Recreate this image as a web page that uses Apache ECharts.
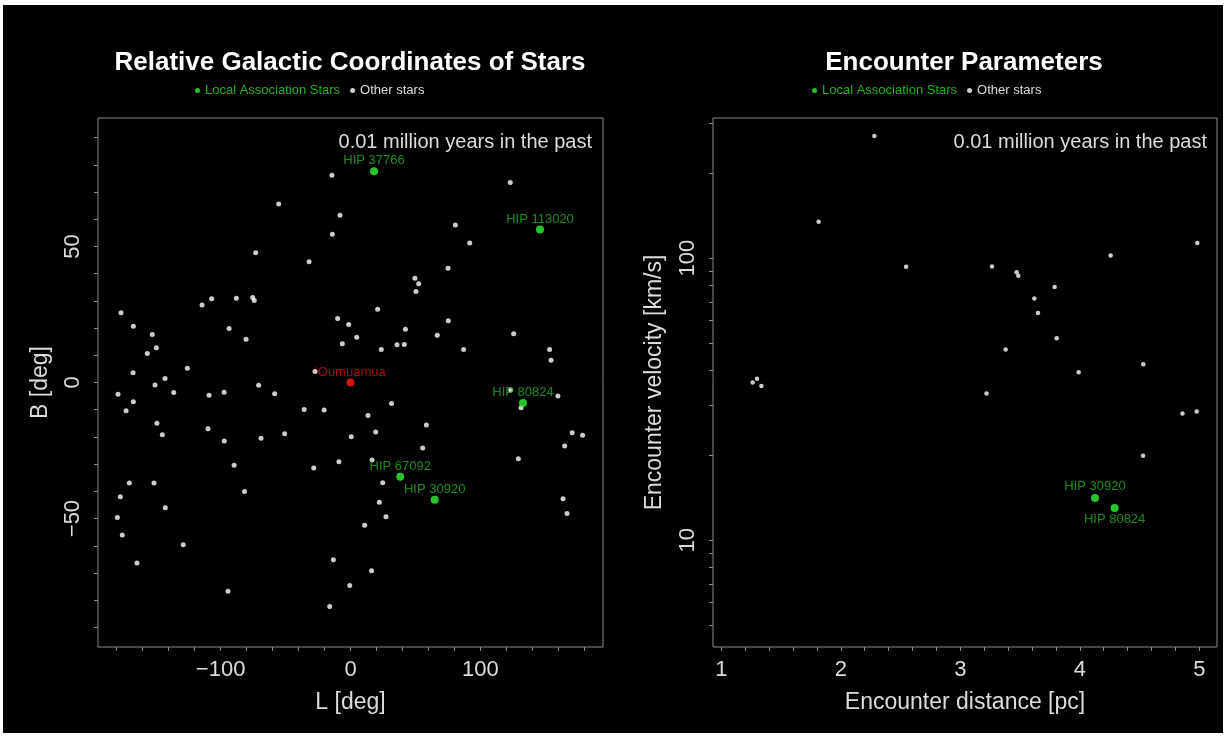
<!DOCTYPE html>
<html><head><meta charset="utf-8">
<script src="https://cdn.jsdelivr.net/npm/echarts@6/dist/echarts.min.js"></script>
<style>
html,body{margin:0;padding:0;background:#fff;}
#bg{position:absolute;left:3px;top:5px;width:1220px;height:728px;background:#000;}
#chart{position:absolute;left:0;top:0;width:1229px;height:740px;}
</style></head><body>
<div id="bg"></div><div id="chart"></div>
<script>
// ---------- Left panel: relative galactic coordinates ----------
const otherL = [-14.3,-55.3,-8.1,-14.0,-73.0,-31.9,-114.3,-106.9,-87.9,-75.3,-74.1,-176.7,-167.2,-152.6,-149.5,-156.4,-93.5,-80.4,-9.9,-1.4,-6.3,4.8,-167.4,-125.6,-142.8,-27.3,123.0,80.7,91.8,75.1,49.6,52.5,50.4,20.9,75.3,42.3,66.8,35.8,41.4,23.7,87.1,125.6,153.3,154.4,-150.5,-179.0,-136.1,-108.9,-97.3,-70.7,-58.4,-167.2,-172.8,-35.7,-20.3,-149.0,-144.9,-109.7,-97.2,-68.9,-50.7,0.6,-89.6,-28.3,-8.9,-170.3,-151.3,-177.2,-81.6,-142.6,-179.5,-175.7,-128.8,-164.4,-13.2,-94.3,-0.6,-16.0,131.3,123.3,159.7,31.6,13.5,19.4,58.4,55.6,16.6,24.8,22.2,27.3,10.9,129.2,170.7,178.7,164.9,163.6,166.7,16.2];
const otherB = [76.2,65.6,61.5,54.5,47.7,44.4,28.5,30.8,31.0,31.2,30.1,25.6,20.7,17.6,12.8,10.7,19.8,15.9,23.5,21.3,14.2,16.6,3.6,5.2,1.5,4.0,73.5,57.9,51.3,42.0,38.3,36.3,33.4,26.9,22.7,19.6,17.4,13.9,14.0,12.1,12.1,17.9,12.1,8.2,-0.9,-4.3,-3.7,-4.7,-3.6,-1.0,-4.1,-7.1,-10.4,-9.9,-10.1,-15.0,-19.2,-17.0,-21.5,-20.5,-18.8,-19.9,-30.4,-31.4,-29.1,-36.9,-36.9,-42.0,-40.1,-46.0,-49.6,-56.0,-59.6,-66.3,-65.1,-76.7,-74.6,-82.3,-9.3,-2.8,-5.0,-7.7,-12.1,-18.2,-15.6,-24.1,-28.5,-36.8,-44.0,-49.3,-52.5,-28.0,-18.5,-19.4,-23.3,-42.7,-48.1,-69.2];
const assocNames = ['HIP 37766','HIP 113020','HIP 80824','HIP 67092','HIP 30920'];
const assocL = [18.1,145.9,132.8,38.3,64.8];
const assocB = [77.6,56.2,-7.5,-34.6,-43.1];
const oumuamuaName = "'Oumuamua";
const oumuamuaL = [0];
const oumuamuaB = [0];

// ---------- Right panel: encounter parameters ----------
const otherDist = [2.28,1.814,2.546,1.262,1.298,1.335,3.265,3.471,3.485,3.789,3.619,3.650,4.258,4.983,3.806,3.379,4.531,3.990,3.219,4.859,4.978,4.529];
const otherVel  = [270.8,134.5,93.1,36.2,37.3,35.2,93.4,89.0,86.5,78.9,71.9,63.8,102.2,113.0,52.0,47.4,42.0,39.4,33.1,28.1,28.6,19.9];
const encNames = ['HIP 30920','HIP 80824'];
const encDist = [4.127,4.291];
const encVel  = [14.1,13.0];
const encLabelPos = ['top','bottom'];

// ---------- Tick values / labels ----------
const lTickValues = [-180,-160,-140,-120,-100,-80,-60,-40,-20,0,20,40,60,80,100,120,140,160,180];
const lLabelValues = [-100,0,100];
const bTickValues = [-90,-80,-70,-60,-50,-40,-30,-20,-10,0,10,20,30,40,50,60,70,80,90];
const bLabelValues = [-50,0,50];
const distTickValues = [1,1.2,1.4,1.6,1.8,2,2.2,2.4,2.6,2.8,3,3.2,3.4,3.6,3.8,4,4.2,4.4,4.6,4.8,5];
const distLabelValues = [1,2,3,4,5];
const velTickValues = [5,6,7,8,9,10,20,30,40,50,60,70,80,90,100,200,300];
const velLabelValues = [10,100];

const FONT = 'Liberation Sans, Arial, Helvetica, sans-serif';
const FRAME = '#8a8a8a';
const TXT = '#dcdcdc';
const GREEN = '#33f533';
const GREEN_TXT = '#22b022';
const WHITE = '#ffffff';
const RED = '#ff1a1a';

const fmtNum = v => (v < 0 ? '\u2212' + String(-v) : String(v));

function valueAxis(gridIndex, min, max, ticks, labels, name, gap, isY, type) {
  return {
    type: type || 'value', gridIndex, min, max,
    name, nameLocation: 'middle', nameGap: gap,
    nameTextStyle: {color: TXT, fontSize: 23, fontFamily: FONT},
    axisLine: {show: false, onZero: false},
    splitLine: {show: false},
    axisTick: {show: true, length: 4, inside: false, customValues: ticks, lineStyle: {color: FRAME, width: 1}},
    axisLabel: {show: true, customValues: labels, color: TXT, fontSize: 22, fontFamily: FONT,
      margin: isY ? 14 : 12, rotate: isY ? 90 : 0, formatter: fmtNum}
  };
}

const chart = echarts.init(document.getElementById('chart'), null, {renderer: 'canvas'});

const legendData = [
  {name: 'Local Association Stars', textStyle: {color: GREEN_TXT}},
  {name: 'Other stars', textStyle: {color: TXT}}
];

const option = {
  backgroundColor: 'transparent',
  animation: false,
  textStyle: {fontFamily: FONT},
  title: [
    {text: 'Relative Galactic Coordinates of Stars', left: 350, top: 63, padding: 0,
     textAlign: 'center', textVerticalAlign: 'middle',
     textStyle: {color: '#ffffff', fontSize: 26, fontWeight: 'bold', fontFamily: FONT}},
    {text: 'Encounter Parameters', left: 964, top: 63, padding: 0,
     textAlign: 'center', textVerticalAlign: 'middle',
     textStyle: {color: '#ffffff', fontSize: 26, fontWeight: 'bold', fontFamily: FONT}},
    {text: '0.01 million years in the past', left: 592, top: 142, padding: 0,
     textAlign: 'right', textVerticalAlign: 'middle',
     textStyle: {color: TXT, fontSize: 20, fontWeight: 'normal', fontFamily: FONT}},
    {text: '0.01 million years in the past', left: 1207, top: 142, padding: 0,
     textAlign: 'right', textVerticalAlign: 'middle',
     textStyle: {color: TXT, fontSize: 20, fontWeight: 'normal', fontFamily: FONT}}
  ],
  legend: [
    {left: 195, top: 84, padding: 0, itemWidth: 5, itemHeight: 5, itemGap: 10, icon: 'circle',
     data: legendData, textStyle: {fontSize: 13, fontFamily: FONT}},
    {left: 812, top: 84, padding: 0, itemWidth: 5, itemHeight: 5, itemGap: 10, icon: 'circle',
     data: legendData, textStyle: {fontSize: 13, fontFamily: FONT}}
  ],
  grid: [
    {left: 98, top: 118, width: 505, height: 529, show: true, borderColor: FRAME, borderWidth: 1, backgroundColor: 'transparent'},
    {left: 713, top: 118, width: 504, height: 529, show: true, borderColor: FRAME, borderWidth: 1, backgroundColor: 'transparent'}
  ],
  xAxis: [
    valueAxis(0, -194.4, 194.4, lTickValues, lLabelValues, 'L [deg]', 44, false),
    valueAxis(1, 0.93, 5.148, distTickValues, distLabelValues, 'Encounter distance [pc]', 44, false)
  ],
  yAxis: [
    valueAxis(0, -97.2, 97.2, bTickValues, bLabelValues, 'B [deg]', 46, true),
    valueAxis(1, 4.18, 313.7, velTickValues, velLabelValues, 'Encounter velocity [km/s]', 47, true, 'log')
  ],
  series: [
    {name: 'Other stars', type: 'scatter', xAxisIndex: 0, yAxisIndex: 0, symbol: 'circle', symbolSize: 5,
     itemStyle: {color: WHITE}, data: otherL.map((l, i) => [l, otherB[i]])},
    {name: 'Local Association Stars', type: 'scatter', xAxisIndex: 0, yAxisIndex: 0, symbol: 'circle', symbolSize: 8,
     itemStyle: {color: GREEN}, z: 3,
     label: {show: true, position: 'top', distance: 0, formatter: '{b}', color: GREEN_TXT, fontSize: 13, fontFamily: FONT},
     data: assocNames.map((n, i) => ({name: n, value: [assocL[i], assocB[i]]}))},
    {name: oumuamuaName, type: 'scatter', xAxisIndex: 0, yAxisIndex: 0, symbol: 'circle', symbolSize: 8,
     itemStyle: {color: RED}, z: 3,
     label: {show: true, position: 'top', distance: 0, formatter: '{b}', color: '#d01010', fontSize: 13, fontFamily: FONT},
     data: oumuamuaL.map((l, i) => ({name: oumuamuaName, value: [l, oumuamuaB[i]]}))},
    {name: 'Other stars', type: 'scatter', xAxisIndex: 1, yAxisIndex: 1, symbol: 'circle', symbolSize: 4.5,
     itemStyle: {color: WHITE}, data: otherDist.map((d, i) => [d, otherVel[i]])},
    {name: 'Local Association Stars', type: 'scatter', xAxisIndex: 1, yAxisIndex: 1, symbol: 'circle', symbolSize: 8,
     itemStyle: {color: GREEN}, z: 3,
     data: encNames.map((n, i) => ({name: n, value: [encDist[i], encVel[i]],
       label: {show: true, position: encLabelPos[i], distance: 1, formatter: '{b}', color: GREEN_TXT, fontSize: 13, fontFamily: FONT}}))}
  ]
};
chart.setOption(option);
</script>
</body></html>
